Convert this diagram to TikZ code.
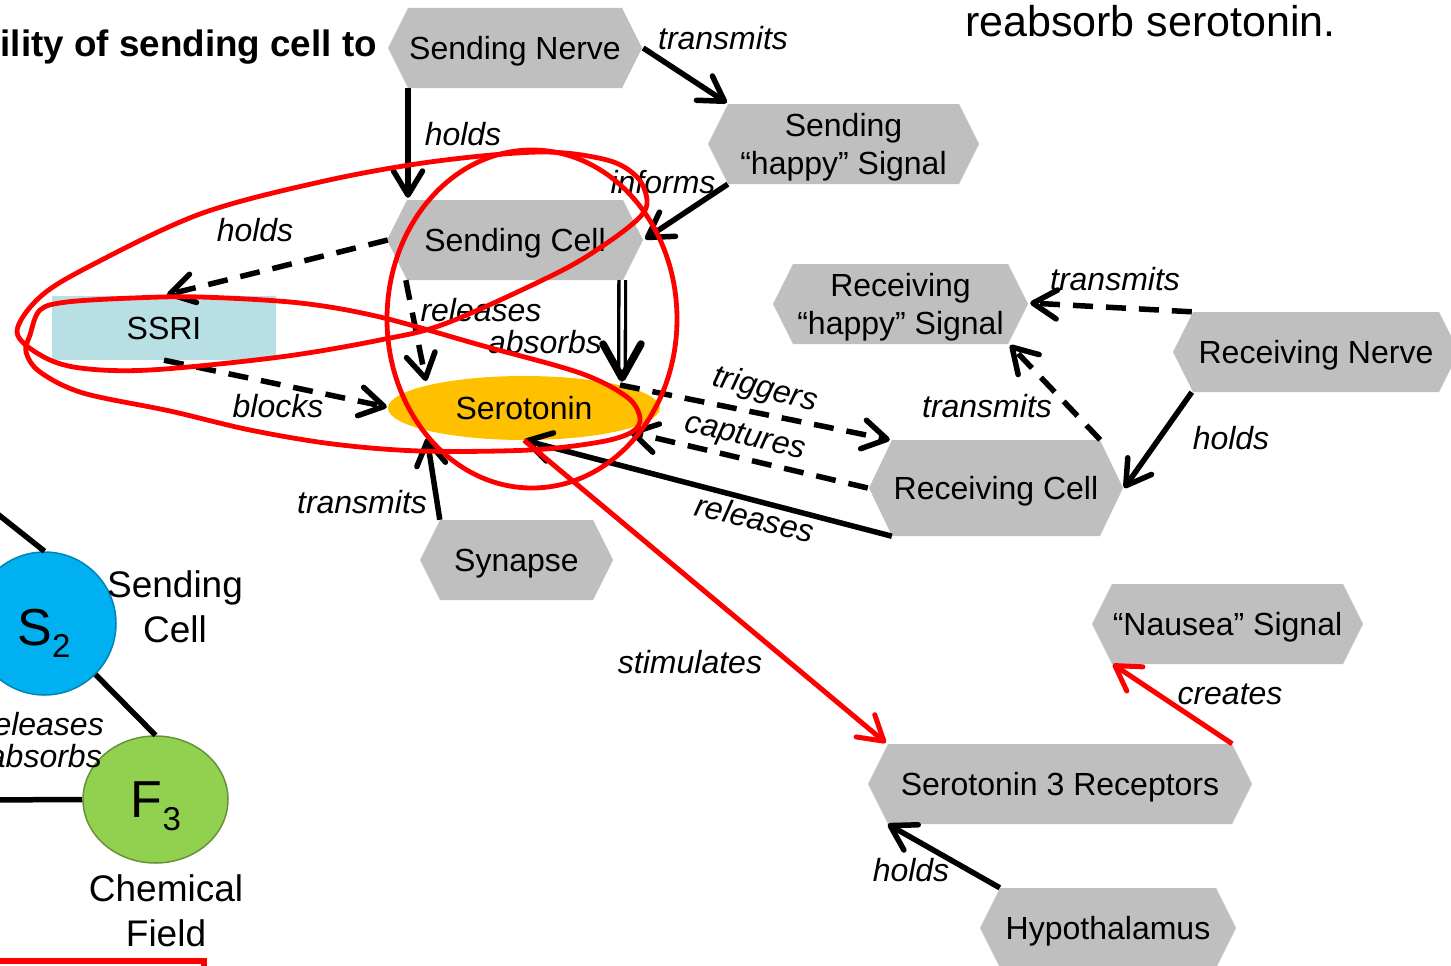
\documentclass[tikz,border=0pt]{standalone}
\usepackage{fontspec}
\setmainfont{Liberation Sans}
\usetikzlibrary{arrows.meta,calc,shapes.geometric}
\definecolor{hexgray}{RGB}{191,191,191}
\definecolor{ssriblue}{RGB}{184,223,227}
\definecolor{serorange}{RGB}{255,192,0}
\definecolor{sblue}{RGB}{0,176,240}
\definecolor{fgreen}{RGB}{146,208,80}
\definecolor{annred}{RGB}{255,0,0}
\newcommand\nodefnt{\fontsize{32pt}{38pt}\selectfont}
\newcommand\hexfill[1]{\fill[hexgray] (path picture bounding box.west) -- ([xshift=#1]path picture bounding box.north west) -- ([xshift=-#1]path picture bounding box.north east) -- (path picture bounding box.east) -- ([xshift=-#1]path picture bounding box.south east) -- ([xshift=#1]path picture bounding box.south west) -- cycle;}
\begin{document}
\begin{tikzpicture}[x=1pt,y=-1pt,
  hexbox/.style={rectangle, inner sep=0pt, minimum height=80pt, align=center, fill=white, font=\nodefnt, text depth=0pt, path picture={\hexfill{#1}}},
  hexbox/.default=20pt,
  lbl/.style={font={\nodefnt\itshape}, inner sep=0pt},
  conn/.style={line width=5.5pt, -{Straight Barb[length=24pt,width=29pt,round]}},
  dconn/.style={conn, dash pattern=on 20pt off 13pt},
  redconn/.style={conn, draw=annred, line width=5pt},
  ann/.style={draw=annred, line width=4.8pt},
  plain/.style={line width=5.5pt},
  bigfnt/.style={font={\fontsize{37pt}{45pt}\selectfont}, align=center, inner sep=0pt},
]
\useasboundingbox (0,0) rectangle (1451,966);
\clip (0,0) rectangle (1451,966);

% header texts
\node[font={\bfseries\fontsize{36.8pt}{40pt}\selectfont}, anchor=base east, inner sep=0pt] (hdr) at (377,57) {ility of sending cell to};
\node[font={\fontsize{43pt}{48pt}\selectfont}, anchor=base west, inner sep=0pt] (hdr2) at (965,37) {reabsorb serotonin.};

% nodes
\node[hexbox, minimum width=254pt] (sn) at (515,48) {Sending Nerve};
\node[hexbox, minimum width=271pt] (ss) at (843.5,144) {Sending\\“happy” Signal};
\node[hexbox, minimum width=256pt] (sc) at (515,240) {Sending Cell};
\node[rectangle, fill=ssriblue, minimum width=224pt, minimum height=64pt, inner sep=0pt, text depth=0pt, font=\nodefnt] (ssri) at (164,328) {SSRI};
\node[ellipse, fill=serorange, minimum width=272pt, minimum height=64pt, inner sep=0pt, text depth=0pt, font=\nodefnt] (ser) at (524,408) {Serotonin};
\node[hexbox, minimum width=193pt] (syn) at (516.5,560) {Synapse};
\node[hexbox, minimum width=255pt] (rs) at (900.5,304) {Receiving\\“happy” Signal};
\node[hexbox, minimum width=286pt] (rn) at (1316,352) {Receiving Nerve};
\node[hexbox=23pt, minimum width=254pt, minimum height=96pt] (rc) at (996,488) {Receiving Cell};
\node[hexbox, minimum width=271pt] (ns) at (1227.5,624) {“Nausea” Signal};
\node[hexbox, minimum width=384pt] (s3) at (1060,784) {Serotonin 3 Receptors};
\node[hexbox, minimum width=256pt] (hy) at (1108,928) {Hypothalamus};

% bottom-left fragment
\node[circle, fill=sblue, draw=sblue!75!black, line width=1.5pt, minimum size=143pt, inner sep=0pt] (s2) at (44.5,623.5) {};
\node[font={\fontsize{52pt}{52pt}\selectfont}, anchor=base, inner sep=0pt] (s2t) at (44,645) {S\raisebox{-12pt}{\fontsize{33pt}{33pt}\selectfont 2}};
\node[ellipse, fill=fgreen, draw=fgreen!70!black, line width=1.5pt, minimum width=145pt, minimum height=127pt, inner sep=0pt] (f3) at (155.5,799.5) {};
\node[font={\fontsize{52pt}{52pt}\selectfont}, anchor=base, inner sep=0pt] (f3t) at (156,817) {F\raisebox{-13pt}{\fontsize{33pt}{33pt}\selectfont 3}};
\node[bigfnt] (sct) at (175,607) {Sending\\Cell};
\node[bigfnt] (cft) at (166,911) {Chemical\\Field};
\node[lbl, anchor=east] (lrel) at (104,724) {releases};
\node[lbl, anchor=east] (labs) at (102,756) {absorbs};
\coordinate (fe1) at (-20,500);
\coordinate (fe2) at (-20,800);
\draw[plain] (fe1) -- (s2.north);
\draw[plain] (s2.-45) -- (f3.north);
\draw[plain] (fe2) -- (f3.west);

% connectors
\draw[conn] ($(sn.south)+(-107,0)$) -- ($(sc.north)+(-107,-2)$);
\draw[conn] ($(sn.east)+(1,0)$) -- ($(ss.north west)+(19,-1)$);
\draw[conn] ($(ss.south west)+(20,0)$) -- ($(sc.east)+(2,-1)$);
\draw[dconn] ($(sc.west)+(1,0)$) -- ($(ssri.north)+(3,-1)$);
\draw[dconn] ($(sc.south west)+(19,0)$) -- ($(ser.center)+(-98,-27)$);
\draw[line width=3.3pt, double distance=3.3pt] ($(sc.south east)+(-21,0)$) -- ($(ser.center)+(98,-36)$);
\draw[line width=7.5pt, line cap=round, line join=round] ($(ser.center)+(79,-64)$) -- ($(ser.center)+(98,-30)$) -- ($(ser.center)+(117,-64)$);
\draw[dconn] (ssri.south) -- ($(ser.west)+(-1,-1)$);
\draw[conn] ($(syn.north west)+(20,0)$) -- ($(ser.center)+(-97,30)$);
\draw[dconn] ($(ser.center)+(96,-23)$) -- ($(rc.north west)+(21,0)$);
\draw[dconn] ($(rc.west)+(-1,0)$) -- ($(ser.center)+(106,24)$);
\draw[conn] ($(rc.south west)+(23,0)$) -- (ser.south);
\draw[dconn] ($(rn.north west)+(19,0)$) -- ($(rs.east)+(2,-1)$);
\draw[dconn] ($(rc.north east)+(-23,0)$) -- ($(rs.south east)+(-18,1)$);
\draw[conn] ($(rn.south west)+(19,0)$) -- ($(rc.east)+(1,0)$);
\draw[conn] ($(hy.north west)+(20,0)$) -- ($(s3.south west)+(20,0)$);
\draw[redconn] (ser.south) -- ($(s3.north west)+(18,-1)$);
\draw[redconn] ($(s3.north east)+(-20,0)$) -- ($(ns.south west)+(21,0)$);

% connector labels
\node[lbl] (l1) at (463,134) {holds};
\node[lbl] (l2) at (723,38) {transmits};
\node[lbl] (l3) at (663,182) {informs};
\node[lbl] (l4) at (255,230) {holds};
\node[lbl] (l5) at (481,310) {releases};
\node[lbl] (l6) at (545,342) {absorbs};
\node[lbl] (l7) at (278,406) {blocks};
\node[lbl] (l8) at (362,502) {transmits};
\node[lbl, rotate=-14] (l9) at (765,390) {triggers};
\node[lbl, rotate=-13] (l10) at (745,438) {captures};
\node[lbl, rotate=-13] (l11) at (755,518) {releases};
\node[lbl] (l12) at (1115,279) {transmits};
\node[lbl] (l13) at (987,406) {transmits};
\node[lbl] (l14) at (1231,438) {holds};
\node[lbl] (l15) at (690,662) {stimulates};
\node[lbl] (l16) at (1230,694) {creates};
\node[lbl] (l17) at (911,870) {holds};

% red annotations
\draw[ann] (532,319) ellipse [x radius=145pt, y radius=169pt];
\draw[ann] plot[smooth cycle, tension=0.55] coordinates {(17,332) (40,297) (90,266) (200,214) (320,182) (430,162) (540,152) (607,160) (637,177) (647,200) (640,217) (607,243) (557,273) (447,323) (380,340) (280,357) (150,370) (80,368) (42,356)};
\draw[ann] plot[smooth cycle, tension=0.55] coordinates {(30,335) (40,310) (67,302) (133,298) (200,297) (300,303) (380,317) (480,345) (580,373) (627,397) (640,418) (632,432) (600,442) (530,450) (420,451) (333,444) (250,430) (170,411) (83,393) (40,372) (26,352)};
\draw[annred, line width=6pt] (-10,961) -- (204,961) -- (204,1000);
\end{tikzpicture}
\end{document}
